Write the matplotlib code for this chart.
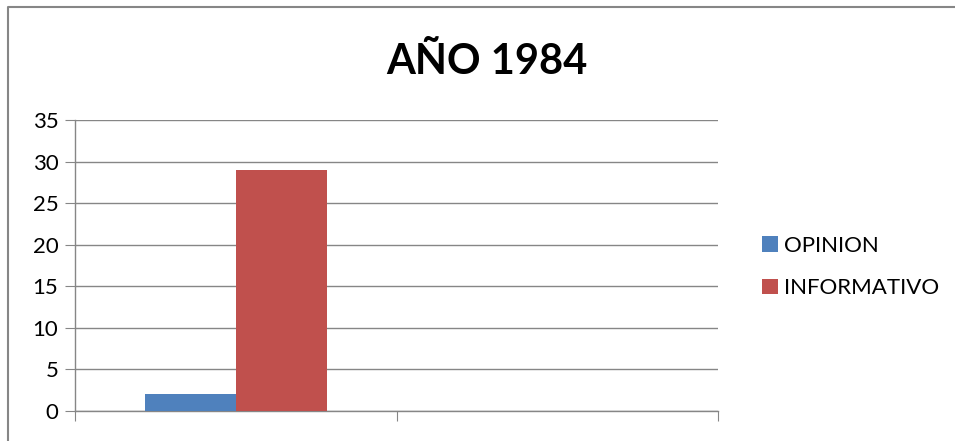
import numpy as np
import matplotlib
matplotlib.use("Agg")
import matplotlib.pyplot as plt
from matplotlib.lines import Line2D

plt.rcParams["font.family"] = ["Lato", "DejaVu Sans"]

categories = ["1", "2"]
opinion = [2, 0]
informativo = [29, 0]
series_names = ["OPINION", "INFORMATIVO"]
yticks = [0, 5, 10, 15, 20, 25, 30, 35]

fig = plt.figure(figsize=(9.55, 4.41), dpi=100)
ax = fig.add_axes([75 / 955, 1 - 411 / 441, (718 - 75) / 955, (411 - 120) / 441])

x = np.arange(len(categories))
w = 0.283
ax.bar(x - w / 2, opinion, w, color="#4F81BD", label=series_names[0], zorder=3)
ax.bar(x + w / 2, informativo, w, color="#C0504D", label=series_names[1], zorder=3)

ax.set_xlim(-0.5, len(categories) - 0.5)
ax.set_ylim(0, 35)
ax.set_yticks(yticks)
ax.tick_params(axis="y", labelsize=16, length=7, color="#868686", pad=5)
ax.yaxis.grid(True, color="#868686", linewidth=1)
ax.set_axisbelow(True)

# category boundaries as tick marks
ax.set_xticks(np.arange(len(categories) + 1) - 0.5)
ax.set_xticklabels([])
ax.tick_params(axis="x", length=7, color="#868686")

for s in ["top", "right"]:
    ax.spines[s].set_visible(False)
for s in ["left", "bottom"]:
    ax.spines[s].set_color("#868686")
    ax.spines[s].set_linewidth(1)

fig.text(487 / 955, 1 - 62 / 441, "AÑO 1984", ha="center", va="center",
         fontsize=30, fontweight="bold")

fig.legend(loc="center left", bbox_to_anchor=(742 / 955, 1 - 267 / 441),
           frameon=False, fontsize=16, handlelength=0.7, handleheight=0.7,
           handletextpad=0.3, labelspacing=1.0)

# outer chart border (top and left edges visible)
fig.lines.append(Line2D([8 / 955, 8 / 955, 1.0], [0.0, 1 - 7 / 441, 1 - 7 / 441],
                        transform=fig.transFigure, color="#868686", linewidth=1.5))

fig.savefig("out.png", dpi=100)
